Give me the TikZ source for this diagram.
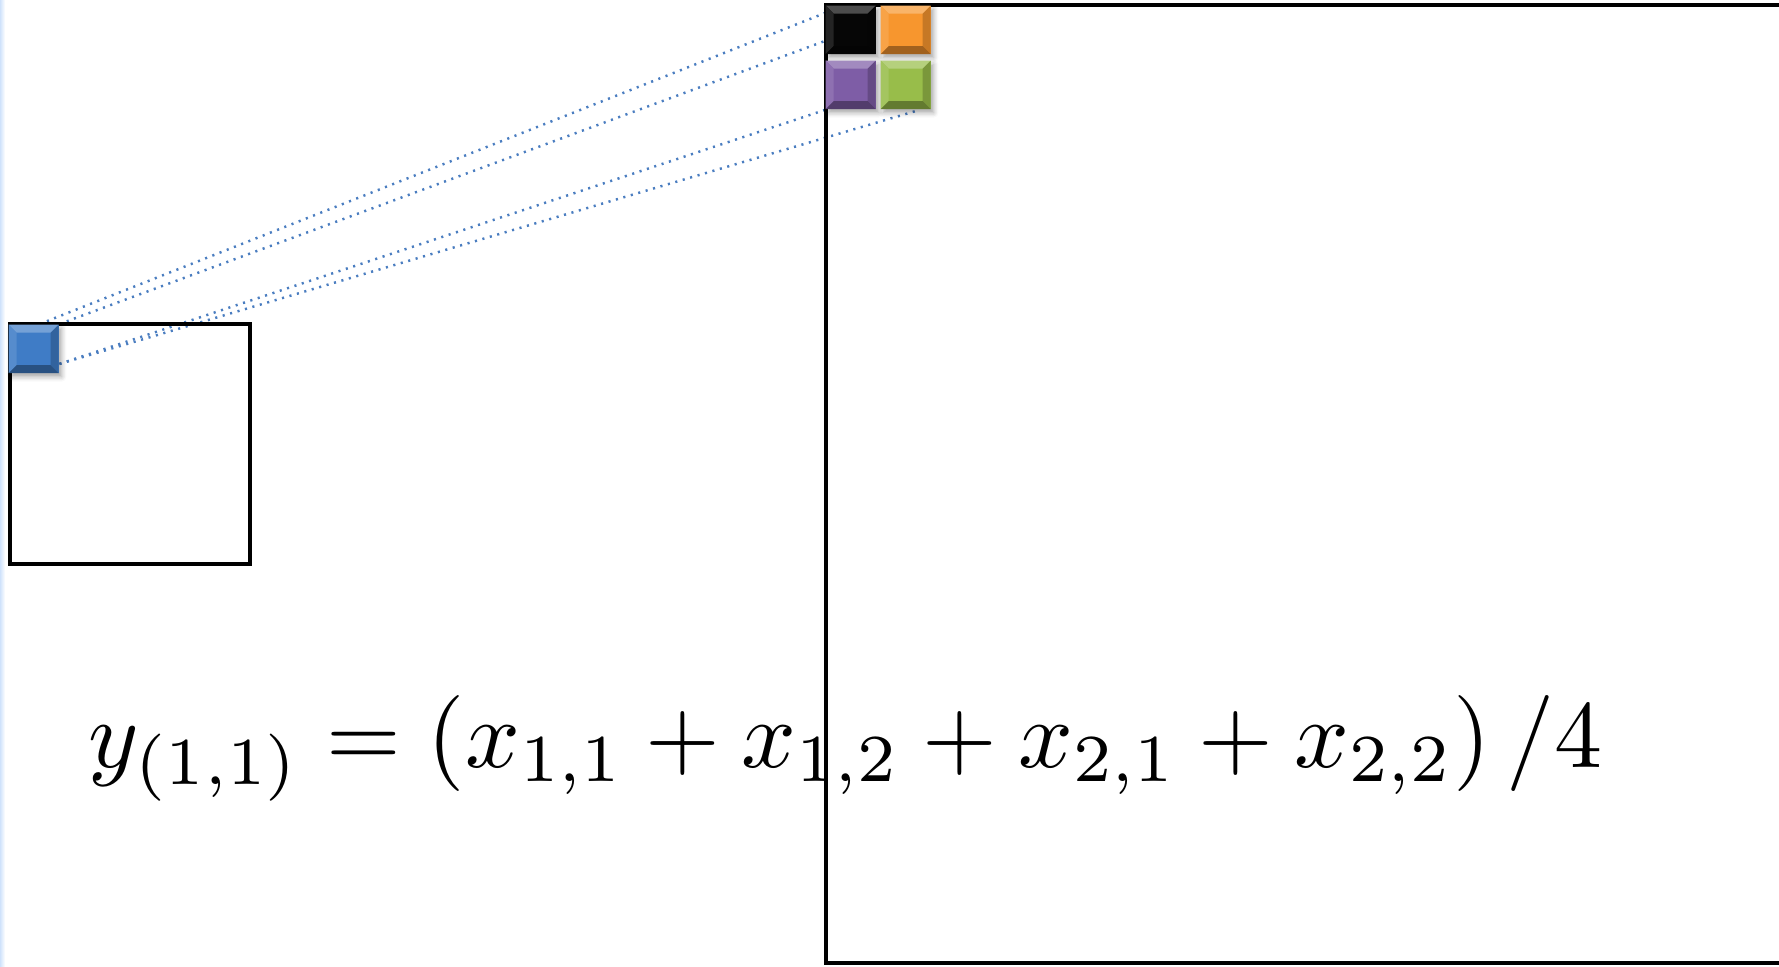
\documentclass[tikz,border=0pt]{standalone}
\usepackage{amsmath}
\usepackage{xcolor}
\definecolor{pxBlue}{HTML}{3F7CC6}
\definecolor{pxBlack}{HTML}{060606}
\definecolor{pxOrange}{HTML}{F7962E}
\definecolor{pxPurple}{HTML}{7E5DA6}
\definecolor{pxGreen}{HTML}{98BD4A}
\definecolor{linkBlue}{HTML}{4A7DC0}
\definecolor{edgeBlue}{HTML}{CFE2FB}
\usepackage{tikz}
\usetikzlibrary{calc,backgrounds,shadows.blur}

\tikzset{
  frame/.style={draw=black, line width=1.2pt},
  link/.style={draw=linkBlue, line width=0.7pt, dash pattern=on 0.6pt off 1.6pt},
  pixel/.style={rectangle, anchor=north west, inner sep=0pt,
    minimum width=0.5cm, minimum height=0.485cm, fill=#1,
    blur shadow={shadow xshift=0.8pt, shadow yshift=-1pt,
      shadow blur radius=1.4pt, shadow opacity=35},
    path picture={
      % bevel: light top and left, dark right and bottom
      \fill[#1!72!white] (path picture bounding box.north west)
        -- (path picture bounding box.north east)
        -- ($(path picture bounding box.north east)+(-8,8)$)
        -- ($(path picture bounding box.north west)+(8,8)$) -- cycle;
      \fill[#1!88!white] (path picture bounding box.north west)
        -- ($(path picture bounding box.north west)+(8,8)$)
        -- ($(path picture bounding box.south west)+(8,-8)$)
        -- (path picture bounding box.south west) -- cycle;
      \fill[#1!80!black] (path picture bounding box.north east)
        -- ($(path picture bounding box.north east)+(-8,8)$)
        -- ($(path picture bounding box.south east)+(-8,-8)$)
        -- (path picture bounding box.south east) -- cycle;
      \fill[#1!65!black] (path picture bounding box.south west)
        -- ($(path picture bounding box.south west)+(8,-8)$)
        -- ($(path picture bounding box.south east)+(-8,-8)$)
        -- (path picture bounding box.south east) -- cycle;
    }}
}

\begin{document}
\begin{tikzpicture}[x=0.01cm, y=-0.01cm]
  \useasboundingbox (0,0) rectangle (1779,966);
  \clip (0,0) rectangle (1779,966);
  % pale edge on the left
  \shade[left color=edgeBlue, right color=white] (0,0) rectangle (5,966);
  % input map and output map
  \draw[frame] (10,324) rectangle (250,564);
  \draw[frame] (826,5) rectangle (1800,963);
  % the one input pixel
  \node[pixel=pxBlue] (inpx) at (8,324) {};
  % the 2x2 block it is pooled from
  \node[pixel=pxBlack]  (o11) at (825,5) {};
  \node[pixel=pxOrange] (o12) at (880,5) {};
  \node[pixel=pxPurple] (o21) at (825,60) {};
  \node[pixel=pxGreen]  (o22) at (880,60) {};
  % dotted links under everything
  \begin{pgfonlayer}{background}
    \coordinate (s1) at ($(inpx.north)+(6,0)$);
    \coordinate (s3) at ($(inpx.south east)+(0,-10)$);
    \coordinate (e1) at ($(o11.north west)+(0,8)$);
    \coordinate (e2) at ($(o11.south west)+(0,-14)$);
    \draw[link] (s1) -- (e1);
    \draw[link] (inpx.north east) -- (e2);
    \draw[link] (s3) -- (o21.south west);
    \draw[link] (s3) -- ($(o22.south east)+(-12,0)$);
  \end{pgfonlayer}
  % the pooling rule
  \node[anchor=base west, inner sep=0pt, scale=2.73] (rule)
    at (87,767)
    {$y_{(1,1)} = \left(x_{1,1} + x_{1,2} + x_{2,1} + x_{2,2}\right)/4$};
\end{tikzpicture}
\end{document}
